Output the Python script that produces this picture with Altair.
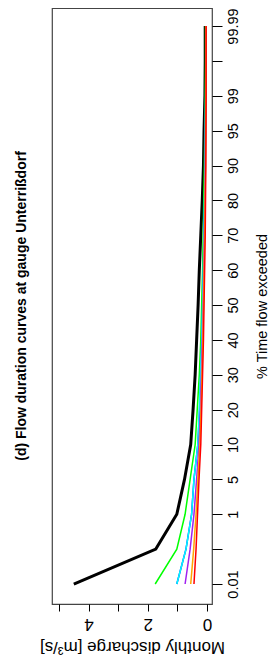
import altair as alt
import pandas as pd

# % time flow exceeded, plotted at equally spaced positions 0..16
pct_labels = ["0.01", "", "1", "5", "10", "20", "30", "40", "50", "60",
              "70", "80", "90", "95", "99", "", "99.99"]
pct_values = [0.01, 0.1, 1, 5, 10, 20, 30, 40, 50, 60, 70, 80, 90, 95, 99, 99.9, 99.99]

series_names = ["Series 1", "Series 2", "Series 3", "Series 4", "Series 5", "Series 6", "Series 7"]
series_colors = ["#000000", "#00FF00", "#0000FF", "#00FFFF", "#A020F0", "#FFA500", "#FF0000"]

black = [4.50, 1.73, 1.02, 0.76, 0.55, 0.47, 0.40, 0.35, 0.30, 0.26, 0.21, 0.16, 0.12, 0.10, 0.07, 0.06, 0.06]
green = [1.75, 1.02, 0.74, 0.57, 0.40, 0.33, 0.26, 0.21, 0.18, 0.15, 0.13, 0.11, 0.09, 0.075, 0.06, 0.05, 0.05]
blue = [1.02, 0.71, 0.52, 0.44, 0.31, 0.25, 0.21, 0.17, 0.145, 0.12, 0.10, 0.08, 0.06, 0.055, 0.045, 0.04, 0.04]
cyan = [1.02, 0.71, 0.52, 0.44, 0.31, 0.26, 0.22, 0.18, 0.15, 0.125, 0.105, 0.085, 0.065, 0.055, 0.045, 0.04, 0.04]
purple = [0.74, 0.57, 0.44, 0.35, 0.27, 0.22, 0.19, 0.16, 0.13, 0.11, 0.09, 0.07, 0.055, 0.05, 0.04, 0.035, 0.035]
orange = [0.55, 0.45, 0.37, 0.31, 0.24, 0.20, 0.17, 0.14, 0.12, 0.10, 0.08, 0.065, 0.05, 0.045, 0.04, 0.035, 0.035]
red = [0.44, 0.37, 0.32, 0.27, 0.21, 0.18, 0.15, 0.12, 0.10, 0.08, 0.06, 0.05, 0.04, 0.035, 0.03, 0.03, 0.03]

all_series = [black, green, blue, cyan, purple, orange, red]

rows = []
for name, vals in zip(series_names, all_series):
    for i, (p, v) in enumerate(zip(pct_values, vals)):
        rows.append({"series": name, "pos": i, "pct": p, "q": v})
df = pd.DataFrame(rows)

label_array = "[" + ",".join("'" + s + "'" for s in pct_labels) + "]"
FONT = "Liberation Sans, Arial, sans-serif"

x_enc = alt.X(
    "q:Q",
    scale=alt.Scale(domain=[-0.169, 5.236], reverse=True, nice=False, zero=False),
    axis=alt.Axis(
        values=[0, 1, 2, 3, 4, 5],
        labelExpr="datum.value % 2 == 0 ? datum.label : ''",
        labelAngle=180, labelAlign="center", labelBaseline="bottom",
        labelFont=FONT, labelFontSize=17, labelColor="black",
        labelPadding=3, tickSize=7, tickColor="black", domain=False, grid=False,
        title="Monthly discharge [m³/s]", titleAngle=180, titleFont=FONT,
        titleFontSize=17, titleFontWeight="normal", titleColor="black",
        titleX=80, titleY=42, titleAlign="center", titleBaseline="middle",
    ),
)
y_enc = alt.Y(
    "pos:Q",
    scale=alt.Scale(domain=[-0.573, 16.517], nice=False, zero=False),
    axis=alt.Axis(
        orient="right", values=list(range(17)),
        labelExpr=label_array + "[datum.value]",
        labelAngle=270, labelAlign="center", labelBaseline="top",
        labelFont=FONT, labelFontSize=14.5, labelColor="black",
        labelPadding=4, tickSize=10, tickColor="black", domain=False, grid=False,
        labelOverlap=False,
        title="% Time flow exceeded", titleAngle=270, titleFont=FONT,
        titleFontSize=14.5, titleFontWeight="normal", titleColor="black",
        titleX=50, titleY=298, titleAlign="center", titleBaseline="middle",
    ),
)
color_enc = alt.Color("series:N", scale=alt.Scale(domain=series_names, range=series_colors), legend=None)

base = alt.Chart(df)
black_line = base.transform_filter(alt.datum.series == "Series 1").mark_line(strokeWidth=3).encode(
    x=x_enc, y=y_enc, color=color_enc, order="pos:Q")
other_lines = base.transform_filter(alt.datum.series != "Series 1").mark_line(strokeWidth=1.5).encode(
    x=x_enc, y=y_enc, color=color_enc, order="pos:Q")

chart = alt.layer(black_line, other_lines).properties(
    width=160, height=596,
    autosize=alt.AutoSizeParams(type="none"),
    padding={"left": 44, "top": 0, "right": 58, "bottom": 54},
    title=alt.TitleParams(
        text="(d) Flow duration curves at gauge Unterrißdorf",
        orient="left", anchor="middle", font=FONT, frame="group",
        fontSize=14, fontWeight="bold", color="black", offset=10,
    ),
).configure_view(stroke="#444444", strokeWidth=1.2)

chart.save("out.html", embed_options={"renderer": "svg", "actions": False})
